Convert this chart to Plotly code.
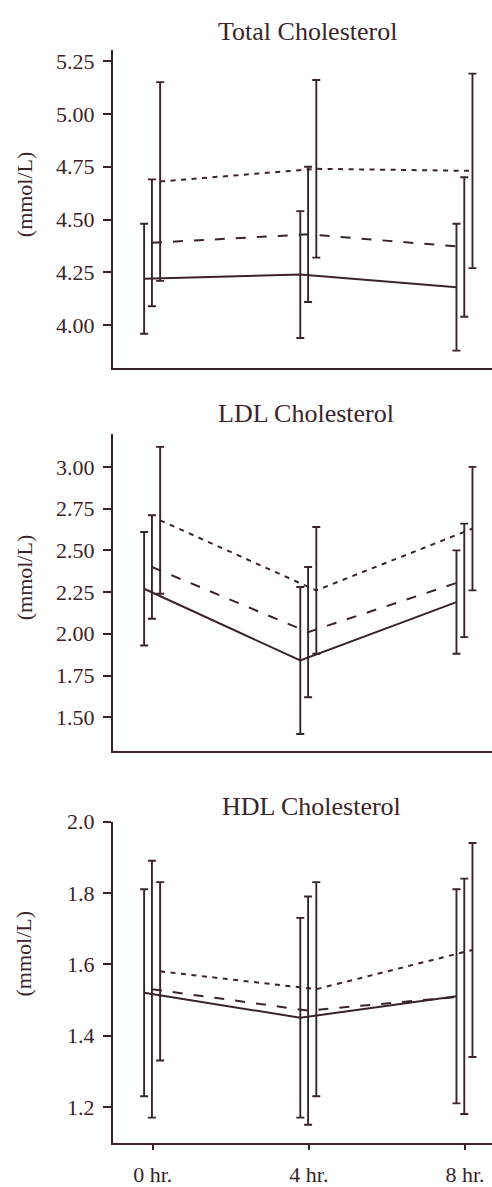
import plotly.graph_objects as go

# Sampling times (hours) and tick labels
hours = [0, 4, 8]
hour_labels = ["0 hr.", "4 hr.", "8 hr."]

# Total cholesterol (mmol/L): mean and SD for the three groups
total_a_mean = [4.22, 4.24, 4.18]
total_a_sd = [0.26, 0.30, 0.30]
total_b_mean = [4.39, 4.43, 4.37]
total_b_sd = [0.30, 0.32, 0.33]
total_c_mean = [4.68, 4.74, 4.73]
total_c_sd = [0.47, 0.42, 0.46]

# LDL cholesterol (mmol/L)
ldl_a_mean = [2.27, 1.84, 2.19]
ldl_a_sd = [0.34, 0.44, 0.31]
ldl_b_mean = [2.40, 2.01, 2.32]
ldl_b_sd = [0.31, 0.39, 0.34]
ldl_c_mean = [2.68, 2.26, 2.63]
ldl_c_sd = [0.44, 0.38, 0.37]

# HDL cholesterol (mmol/L)
hdl_a_mean = [1.52, 1.45, 1.51]
hdl_a_sd = [0.29, 0.28, 0.30]
hdl_b_mean = [1.53, 1.47, 1.51]
hdl_b_sd = [0.36, 0.32, 0.33]
hdl_c_mean = [1.58, 1.53, 1.64]
hdl_c_sd = [0.25, 0.30, 0.30]

panel_titles = ["Total Cholesterol", "LDL Cholesterol", "HDL Cholesterol"]
y_title = "(mmol/L)"

INK = "#3a2428"
FONT = "Liberation Serif, Times New Roman, serif"
W, H = 492, 1187

# group styles: (horizontal offset in hours, dash pattern)
styles = [(-0.22, "solid"), (-0.02, "10px,11px"), (0.19, "5px,5.5px")]

panels = [
    [(total_a_mean, total_a_sd), (total_b_mean, total_b_sd), (total_c_mean, total_c_sd)],
    [(ldl_a_mean, ldl_a_sd), (ldl_b_mean, ldl_b_sd), (ldl_c_mean, ldl_c_sd)],
    [(hdl_a_mean, hdl_a_sd), (hdl_b_mean, hdl_b_sd), (hdl_c_mean, hdl_c_sd)],
]

# pixel layout of each panel (top, bottom of plot area), y range and ticks
px_rows = [(39, 361), (428, 750), (822, 1148)]
y_ranges = [(3.80, 5.30), (1.30, 3.20), (1.10, 2.00)]
y_ticks = [
    [4.00, 4.25, 4.50, 4.75, 5.00, 5.25],
    [1.50, 1.75, 2.00, 2.25, 2.50, 2.75, 3.00],
    [1.2, 1.4, 1.6, 1.8, 2.0],
]
y_fmt = [".2f", ".2f", ".1f"]
title_pos = [(307, 20), (306, 408), (311, 807)]
ytitle_pos = [(24, 185), (24, 574), (24, 956)]

x_left_px = 113
x_range = [-1.017, 8.69]

fig = go.Figure()

for p, groups in enumerate(panels):
    xa = "x" if p == 0 else f"x{p + 1}"
    ya = "y" if p == 0 else f"y{p + 1}"
    for (mean, sd), (off, dash) in zip(groups, styles):
        fig.add_trace(go.Scatter(
            x=[h + off for h in hours],
            y=mean,
            mode="lines",
            line=dict(color=INK, width=2, dash=dash),
            error_y=dict(type="data", array=sd, visible=True,
                         color=INK, thickness=1.9, width=4),
            xaxis=xa, yaxis=ya,
            showlegend=False,
            hoverinfo="skip",
        ))

    top, bot = px_rows[p]
    dom = [1 - bot / H, 1 - top / H]
    last = p == len(panels) - 1
    xkey = "xaxis" if p == 0 else f"xaxis{p + 1}"
    ykey = "yaxis" if p == 0 else f"yaxis{p + 1}"
    fig.layout[xkey] = dict(
        domain=[x_left_px / W, 1], range=x_range, anchor=ya,
        showline=True, linecolor=INK, linewidth=2.2,
        showgrid=False, zeroline=False,
        tickmode="array", tickvals=hours if last else [],
        ticktext=hour_labels if last else [],
        ticks="outside" if last else "", ticklen=5, tickwidth=1.6, tickcolor=INK,
        ticklabelstandoff=6,
        tickfont=dict(family=FONT, size=22, color=INK),
    )
    fig.layout[ykey] = dict(
        domain=dom, range=list(y_ranges[p]), anchor=xa,
        showline=True, linecolor=INK, linewidth=2.2,
        showgrid=False, zeroline=False,
        tickmode="array", tickvals=y_ticks[p], tickformat=y_fmt[p],
        ticks="outside", ticklen=8, tickwidth=1.6, tickcolor=INK,
        ticklabelstandoff=4,
        tickfont=dict(family=FONT, size=22, color=INK),
    )

    tx, ty = title_pos[p]
    fig.add_annotation(text=panel_titles[p], x=tx / W, y=1 - ty / H,
                       xref="paper", yref="paper", showarrow=False,
                       xanchor="center", yanchor="middle",
                       font=dict(family=FONT, size=26, color=INK))
    lx, ly = ytitle_pos[p]
    fig.add_annotation(text=y_title, x=lx / W, y=1 - ly / H,
                       xref="paper", yref="paper", showarrow=False,
                       xanchor="center", yanchor="middle", textangle=-90,
                       font=dict(family=FONT, size=22, color=INK))

fig.update_layout(
    width=W, height=H,
    margin=dict(l=0, r=0, t=0, b=0),
    paper_bgcolor="white", plot_bgcolor="white",
)

fig.write_html("out.html")
